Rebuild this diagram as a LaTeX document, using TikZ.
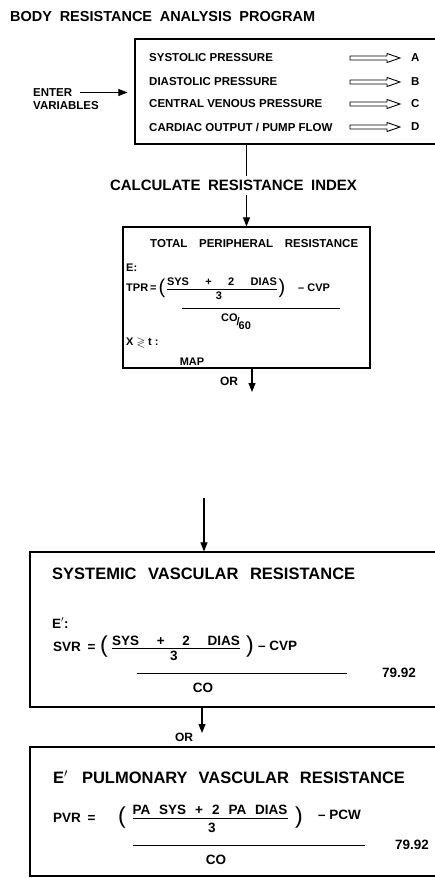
\documentclass[tikz,border=0pt]{standalone}
\usepackage{amssymb}
\usepackage{fontspec}
\setmainfont{Liberation Sans}
\usetikzlibrary{positioning,arrows.meta}

\newcommand{\spread}[2]{\makebox[#1][s]{#2}}

\begin{document}
\begin{tikzpicture}[x=1pt, y=-1pt,
  panel/.style={draw, line width=1.2pt, inner sep=0pt},
  arr/.style={-{Triangle[length=9pt,width=7pt]}, line width=1.1pt},
  hollow/.style={line width=0.9pt, line join=miter},
  bar/.style={line width=1pt},
  head/.style={font=\fontsize{14.5}{16}\selectfont\bfseries, inner sep=0pt},
  item/.style={font=\fontsize{11.5}{13}\selectfont\bfseries, anchor=west, inner sep=0pt},
  lbl/.style={font=\fontsize{11.5}{13.5}\selectfont\bfseries, inner sep=0pt},
  big/.style={font=\fontsize{16.5}{18}\selectfont\bfseries, anchor=west, inner sep=0pt},
  eq/.style={font=\fontsize{11}{12}\selectfont\bfseries, inner sep=0pt},
  eqq/.style={font=\fontsize{13.5}{15}\selectfont\bfseries, inner sep=0pt},
  paren/.style={font=\fontsize{23}{23}\selectfont, inner sep=0pt},
]
  \useasboundingbox (0,0) rectangle (435,878);

  \node[head, anchor=west] (title) at (10,17) {\spread{305pt}{BODY RESISTANCE ANALYSIS PROGRAM}};

  % input variables
  \node[panel, minimum width=303pt, minimum height=105pt] (inbox) at (286.5,91.5) {};
  \foreach \txt/\lab/\yy in {SYSTOLIC PRESSURE/A/58, DIASTOLIC PRESSURE/B/82,
      CENTRAL VENOUS PRESSURE/C/104, {CARDIAC OUTPUT / PUMP FLOW}/D/127} {
    \node[item] (item\lab) at (149,\yy) {\txt};
    \node[item] (out\lab) at (411,\yy) {\lab};
    \coordinate (tail\lab) at (350,\yy);
    % open block arrow
    \draw[hollow] (tail\lab) ++(0,-2) -- ++(37,0) -- ++(0,-2.5) -- ++(13,4.5)
      -- ++(-13,4.5) -- ++(0,-2.5) -- ++(-37,0) -- cycle;
  }

  \node[lbl, anchor=west, align=left] (enter) at (33,99) {ENTER\\VARIABLES};
  \coordinate (entertail) at (80,92.5);
  \draw[arr, line width=0.8pt, shorten >=7pt] (entertail) -- (entertail -| inbox.west);

  % total peripheral resistance
  \node[panel, minimum width=247pt, minimum height=141pt] (tpr) at (246.5,297.5) {};
  \draw[arr] (inbox.south -| tpr.north) -- node[font=\fontsize{15}{17}\selectfont\bfseries,
      fill=white, inner xsep=0pt, inner ysep=4pt, xshift=-13pt] (calc)
      {\spread{247pt}{CALCULATE RESISTANCE INDEX}} (tpr.north);

  \node[item] (tprname) at (150,244) {\spread{208pt}{TOTAL PERIPHERAL RESISTANCE}};
  \node[eq, anchor=west] (tpre) at (126,268) {E:};
  \node[eq, anchor=west] (tprlhs) at (126,288) {TPR\,=};
  \node[paren, font=\fontsize{20}{20}\selectfont] (tprl) at (162,288) {(};
  \node[eq] (tprnum) at (222,282) {\spread{110pt}{SYS + 2 DIAS}};
  \draw[bar] (167,289) -- (277,289);
  \node[eq] (tprden) at (219,296) {3};
  \node[paren, font=\fontsize{20}{20}\selectfont] (tprr) at (282,288) {)};
  \node[eq, anchor=west] (tprcvp) at (298,288) {–~CVP};
  \draw[bar] (182,308) -- (340,308);
  \node[eq] (tprco) at (236,322) {\raisebox{4pt}{CO}\kern-1pt/\kern-1pt\raisebox{-4pt}{60}};
  \node[eq, anchor=west] (tprx) at (126,343) {X $\gtrless$ t :};
  \node[eq] (tprmap) at (192,362) {MAP};

  \coordinate (tprout) at (252,392);
  \draw[arr] (tprout |- tpr.south) -- (tprout);
  \node[eqq, font=\fontsize{12}{14}\selectfont\bfseries] (or1) at (229,381) {OR};

  % systemic vascular resistance
  \node[panel, minimum width=408pt, minimum height=155pt] (svr) at (234,629.5) {};
  \coordinate (svrin) at (204,498);
  \draw[arr] (svrin) -- (svrin |- svr.north);

  \node[big] (svrname) at (52,574) {\spread{303pt}{SYSTEMIC VASCULAR RESISTANCE}};
  \node[eqq, anchor=west] (svre) at (52,623) {E$'$:};
  \node[eqq, anchor=west] (svrlhs) at (53,647) {SVR\enspace=};
  \node[paren] (svrl) at (104,647) {(};
  \node[eqq] (svrnum) at (176,641) {\spread{128pt}{SYS + 2 DIAS}};
  \draw[bar] (112,648) -- (240,648);
  \node[eqq] (svrden) at (174,656) {3};
  \node[paren] (svrr) at (250,647) {)};
  \node[eqq, anchor=west] (svrcvp) at (258,646) {–~CVP};
  \draw[bar] (137,673) -- (347,673);
  \node[eqq] (svrk) at (399,673) {79.92};
  \node[eqq] (svrco) at (203,688) {CO};

  % pulmonary vascular resistance
  \node[panel, minimum width=408pt, minimum height=129pt] (pvr) at (234,811.5) {};
  \coordinate (pvrin) at (202,733);
  \draw[arr] (pvrin |- svr.south) -- (pvrin);
  \node[eqq, font=\fontsize{12}{14}\selectfont\bfseries] (or2) at (184,737) {OR};

  \node[big] (pvrname) at (53,777) {E$'$\hspace{14pt}\spread{323pt}{PULMONARY VASCULAR RESISTANCE}};
  \node[eqq, anchor=west] (pvrlhs) at (53,818) {PVR\enspace=};
  \node[paren] (pvrl) at (122,818) {(};
  \node[eqq] (pvrnum) at (210,810) {\spread{155pt}{PA SYS + 2 PA DIAS}};
  \draw[bar] (133,818) -- (288,818);
  \node[eqq] (pvrden) at (212,828) {3};
  \node[paren] (pvrr) at (299,818) {)};
  \node[eqq, anchor=west] (pvrpcw) at (318,815) {–~PCW};
  \draw[bar] (133,845) -- (365,845);
  \node[eqq] (pvrk) at (412,845) {79.92};
  \node[eqq] (pvrco) at (216,860) {CO};
\end{tikzpicture}
\end{document}
